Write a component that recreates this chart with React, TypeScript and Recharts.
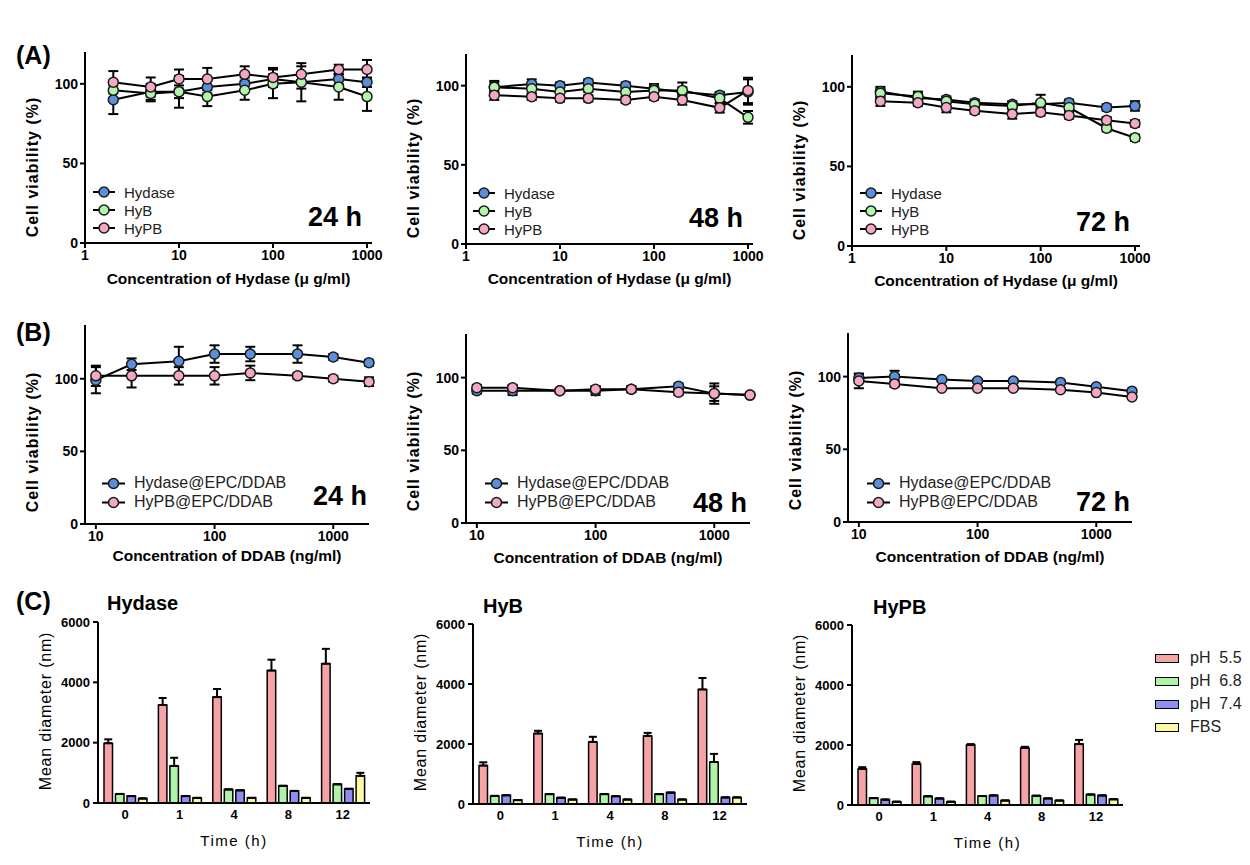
import React from "react";
import {
  LineChart,
  Line,
  BarChart,
  Bar,
  XAxis,
  YAxis,
  ErrorBar,
  Legend,
} from "recharts";

const FONT = "'Liberation Sans', Arial, Helvetica, sans-serif";

// ---- (A) viability vs. Hydase concentration (µg/ml) ----
const concA = [2, 5, 10, 20, 50, 100, 200, 500, 1000];
const ticksA = [1, 10, 100, 1000];

const hydase24 = [90, 95, 95, 98, 100, 103, 101, 103, 101];
const hydase24Sd = [9, 5, 4, 4, 4, 3, 4, 3, 3];
const hyb24 = [96, 94, 95, 92, 96, 100, 101, 98, 92];
const hyb24Sd = [5, 5, 10, 6, 6, 9, 12, 8, 9];
const hypb24 = [101, 98, 103, 103, 106, 104, 106, 109, 109];
const hypb24Sd = [7, 6, 6, 7, 5, 6, 5, 3, 6];

const hydase48 = [99, 101, 100, 102, 100, 98, 96, 94, 96];
const hydase48Sd = [4, 3, 2, 2, 2, 3, 3, 2, 8];
const hyb48 = [99, 98, 96, 98, 96, 97, 97, 92, 80];
const hyb48Sd = [3, 3, 2, 2, 3, 3, 5, 3, 4];
const hypb48 = [94, 93, 92, 92, 91, 93, 91, 86, 97];
const hypb48Sd = [3, 2, 2, 2, 2, 2, 3, 3, 8];

const hydase72 = [97, 93, 92, 90, 89, 89, 90, 87, 88];
const hydase72Sd = [3, 3, 2, 2, 2, 2, 2, 2, 3];
const hyb72 = [96, 94, 91, 89, 88, 90, 87, 74, 68];
const hyb72Sd = [3, 3, 2, 2, 2, 5, 2, 2, 2];
const hypb72 = [91, 90, 87, 85, 83, 84, 82, 79, 77];
const hypb72Sd = [3, 2, 3, 2, 3, 2, 2, 2, 2];

// ---- (B) viability vs. DDAB concentration (ng/ml) ----
const concB = [10, 20, 50, 100, 200, 500, 1000, 2000];
const ticksB = [10, 100, 1000];

const hydLipo24 = [99, 110, 112, 117, 117, 117, 115, 111];
const hydLipo24Sd = [9, 4, 10, 6, 5, 6, 2, 2];
const hypbLipo24 = [102, 102, 102, 102, 104, 102, 100, 98];
const hypbLipo24Sd = [7, 8, 6, 6, 5, 2, 2, 3];

const hydLipo48 = [91, 91, 91, 91, 92, 94, 89, 88];
const hydLipo48Sd = [2, 3, 1, 3, 2, 2, 7, 1];
const hypbLipo48 = [93, 93, 91, 92, 92, 90, 89, 88];
const hypbLipo48Sd = [2, 2, 1, 2, 2, 2, 5, 1];

const hydLipo72 = [99, 100, 98, 97, 97, 96, 93, 90];
const hydLipo72Sd = [3, 4, 1, 1, 1, 1, 1, 1];
const hypbLipo72 = [97, 95, 92, 92, 92, 91, 89, 86];
const hypbLipo72Sd = [5, 2, 1, 1, 1, 1, 1, 1];

// ---- (C) mean diameter over time ----
const times = ["0", "1", "4", "8", "12"];

const hydPh55 = [1980, 3250, 3510, 4390, 4620];
const hydPh55Sd = [130, 230, 270, 360, 490];
const hydPh68 = [300, 1230, 450, 570, 620];
const hydPh68Sd = [0, 270, 0, 0, 0];
const hydPh74 = [230, 230, 420, 400, 470];
const hydPh74Sd = [0, 0, 0, 0, 0];
const hydFbs = [150, 170, 170, 170, 900];
const hydFbsSd = [0, 0, 0, 0, 100];

const hybPh55 = [1280, 2350, 2070, 2270, 3820];
const hybPh55Sd = [110, 90, 170, 100, 380];
const hybPh68 = [270, 330, 330, 330, 1400];
const hybPh68Sd = [0, 0, 0, 0, 270];
const hybPh74 = [290, 210, 260, 380, 220];
const hybPh74Sd = [0, 0, 0, 0, 0];
const hybFbs = [130, 150, 150, 150, 220];
const hybFbsSd = [0, 0, 0, 0, 0];

const hypbPh55 = [1200, 1370, 2000, 1900, 2030];
const hypbPh55Sd = [60, 60, 30, 40, 140];
const hypbPh68 = [230, 290, 300, 310, 350];
const hypbPh68Sd = [0, 0, 0, 0, 0];
const hypbPh74 = [180, 220, 320, 220, 320];
const hypbPh74Sd = [0, 0, 0, 0, 0];
const hypbFbs = [110, 110, 150, 150, 190];
const hypbFbsSd = [0, 0, 0, 0, 0];

const C_HYDASE = "#5a8fdc";
const C_HYB = "#b4f5ae";
const C_HYPB = "#f5a8c6";

const barNames = ["pH 5.5", "pH 6.8", "pH 7.4", "FBS"];
const barColors = ["#f6a3a6", "#aef3a6", "#8e8ef0", "#fdfaa6"];

type Series = { name: string; color: string; values: number[]; sd: number[] };

const tickFont = { fontSize: 14, fontWeight: 700, fill: "#000", fontFamily: FONT };
const axisStroke = { stroke: "#000", strokeWidth: 2 };

type LinePanelProps = {
  px0: number;
  px1: number;
  yTop: number;
  y0: number;
  xs: number[];
  xDomain: [number, number];
  xTicks: number[];
  yMax: number;
  series: Series[];
  xLabel: string;
  xLabelDy: number;
  yLabelDy: number;
  legendDx: number;
  legendDy: number;
  legendRow: number;
  legendFont: number;
  legendSym: number;
};

function LinePanel(p: LinePanelProps) {
  const mL = 10, yW = 60, mT = 10, xH = 50, mR = 15;
  const left = p.px0 - mL - yW;
  const top = p.yTop - mT;
  const width = p.px1 - p.px0 + mL + yW + mR;
  const height = p.y0 - p.yTop + mT + xH;

  const data = p.xs.map((x, i) => {
    const row: Record<string, number> = { x };
    p.series.forEach((s, k) => {
      row[`v${k}`] = s.values[i];
      row[`e${k}`] = s.sd[i];
    });
    return row;
  });

  const legendContent = () => (
    <div style={{ fontFamily: FONT, fontSize: p.legendFont, color: "#222" }}>
      {p.series.map((s) => (
        <div key={s.name} style={{ display: "flex", alignItems: "center", height: p.legendRow }}>
          <svg width={p.legendSym} height={p.legendRow}>
            <line x1={0} x2={p.legendSym} y1={p.legendRow / 2} y2={p.legendRow / 2} stroke="#000" strokeWidth={2} />
            <circle cx={p.legendSym / 2} cy={p.legendRow / 2} r={5} fill={s.color} stroke="#1a1a1a" strokeWidth={1.5} />
          </svg>
          <span style={{ marginLeft: 9, whiteSpace: "nowrap" }}>{s.name}</span>
        </div>
      ))}
    </div>
  );

  return (
    <div style={{ position: "absolute", left, top }}>
      <LineChart width={width} height={height} data={data} margin={{ top: mT, right: mR, left: mL, bottom: 0 }}>
        <XAxis
          dataKey="x"
          type="number"
          scale="log"
          domain={p.xDomain}
          ticks={p.xTicks}
          interval={0}
          height={xH}
          tick={tickFont}
          tickSize={5}
          tickLine={axisStroke}
          axisLine={axisStroke}
          label={{
            content: () => (
              <text
                x={(p.px0 + p.px1) / 2 - left}
                y={p.y0 + p.xLabelDy - top}
                textAnchor="middle"
                dominantBaseline="central"
                fontFamily={FONT}
                fontSize={15.5}
                fontWeight={700}
                fill="#000"
              >
                {p.xLabel}
              </text>
            ),
          }}
        />
        <YAxis
          type="number"
          domain={[0, p.yMax]}
          ticks={[0, 50, 100]}
          interval={0}
          width={yW}
          tick={tickFont}
          tickSize={5}
          tickLine={axisStroke}
          axisLine={axisStroke}
          label={{
            content: () => {
              const cx = mL + yW - 53;
              const cy = p.y0 - p.yLabelDy - top;
              return (
                <text
                  x={cx}
                  y={cy}
                  transform={`rotate(-90 ${cx} ${cy})`}
                  textAnchor="middle"
                  dominantBaseline="central"
                  fontFamily={FONT}
                  fontSize={16}
                  fontWeight={700}
                  letterSpacing={1}
                  fill="#000"
                >
                  Cell viability (%)
                </text>
              );
            },
          }}
        />
        <Legend
          layout="vertical"
          align="center"
          verticalAlign="middle"
          content={legendContent}
          wrapperStyle={{
            left: p.px0 + p.legendDx - left,
            top: p.y0 - p.legendDy - p.legendRow / 2 - top,
            width: "auto",
            height: "auto",
          }}
        />
        {p.series.map((s, k) => (
          <Line
            key={s.name}
            type="linear"
            dataKey={`v${k}`}
            name={s.name}
            stroke="#000"
            strokeWidth={2}
            dot={{ r: 5, fill: s.color, stroke: "#1a1a1a", strokeWidth: 1.5 }}
            activeDot={false}
            isAnimationActive={false}
          >
            <ErrorBar dataKey={`e${k}`} direction="y" width={5} stroke="#000" strokeWidth={2} isAnimationActive={false} />
          </Line>
        ))}
      </LineChart>
    </div>
  );
}

type BarPanelProps = {
  px0: number;
  px1: number;
  yTop: number;
  y0: number;
  values: number[][];
  sd: number[][];
  showLegend: boolean;
};

function BarPanel(p: BarPanelProps) {
  const mL = 10, yW = 60, mT = 10, xH = 50;
  const mR = p.showLegend ? 1250 - p.px1 : 15;
  const left = p.px0 - mL - yW;
  const top = p.yTop - mT;
  const width = p.px1 - p.px0 + mL + yW + mR;
  const height = p.y0 - p.yTop + mT + xH;

  const data = times.map((t, i) => {
    const row: Record<string, any> = { t };
    p.values.forEach((v, k) => {
      row[`b${k}`] = v[i];
      row[`s${k}`] = [0, p.sd[k][i]];
    });
    return row;
  });

  const legendContent = () => (
    <div style={{ fontFamily: FONT, fontSize: 16, color: "#222" }}>
      {barNames.map((n, k) => (
        <div key={n} style={{ display: "flex", alignItems: "center", height: 23 }}>
          <div style={{ width: 22, height: 7, background: barColors[k], border: "1.5px solid #000" }} />
          <span style={{ marginLeft: 11, whiteSpace: "pre" }}>{n.replace(" ", "  ")}</span>
        </div>
      ))}
    </div>
  );

  return (
    <div style={{ position: "absolute", left, top }}>
      <BarChart
        width={width}
        height={height}
        data={data}
        margin={{ top: mT, right: mR, left: mL, bottom: 0 }}
        barSize={8.5}
        barGap={3}
      >
        <XAxis
          dataKey="t"
          type="category"
          interval={0}
          height={xH}
          tick={{ ...tickFont, fontSize: 13 }}
          tickSize={5}
          tickLine={false}
          axisLine={axisStroke}
          label={{
            content: () => (
              <text
                x={(p.px0 + p.px1) / 2 - left}
                y={p.y0 + 37 - top}
                textAnchor="middle"
                dominantBaseline="central"
                fontFamily={FONT}
                fontSize={15}
                letterSpacing={1.5}
                fill="#000"
              >
                Time (h)
              </text>
            ),
          }}
        />
        <YAxis
          type="number"
          domain={[0, 6000]}
          ticks={[0, 2000, 4000, 6000]}
          interval={0}
          width={yW}
          tick={{ ...tickFont, fontSize: 13 }}
          tickSize={5}
          tickMargin={3}
          tickLine={axisStroke}
          axisLine={axisStroke}
          label={{
            content: () => {
              const cx = mL + yW - 53;
              const cy = p.y0 - 92 - top;
              return (
                <text
                  x={cx}
                  y={cy}
                  transform={`rotate(-90 ${cx} ${cy})`}
                  textAnchor="middle"
                  dominantBaseline="central"
                  fontFamily={FONT}
                  fontSize={16}
                  letterSpacing={0.8}
                  fill="#000"
                >
                  Mean diameter (nm)
                </text>
              );
            },
          }}
        />
        {p.showLegend && (
          <Legend
            layout="vertical"
            align="center"
            verticalAlign="middle"
            content={legendContent}
            wrapperStyle={{ left: 1155 - left, top: 658 - 11.5 - top, width: "auto", height: "auto" }}
          />
        )}
        {p.values.map((_, k) => (
          <Bar
            key={k}
            dataKey={`b${k}`}
            name={barNames[k]}
            fill={barColors[k]}
            stroke="#000"
            strokeWidth={1.5}
            isAnimationActive={false}
          >
            <ErrorBar dataKey={`s${k}`} direction="y" width={4} stroke="#000" strokeWidth={2} isAnimationActive={false} />
          </Bar>
        ))}
      </BarChart>
    </div>
  );
}

const seriesA24: Series[] = [
  { name: "Hydase", color: C_HYDASE, values: hydase24, sd: hydase24Sd },
  { name: "HyB", color: C_HYB, values: hyb24, sd: hyb24Sd },
  { name: "HyPB", color: C_HYPB, values: hypb24, sd: hypb24Sd },
];
const seriesA48: Series[] = [
  { name: "Hydase", color: C_HYDASE, values: hydase48, sd: hydase48Sd },
  { name: "HyB", color: C_HYB, values: hyb48, sd: hyb48Sd },
  { name: "HyPB", color: C_HYPB, values: hypb48, sd: hypb48Sd },
];
const seriesA72: Series[] = [
  { name: "Hydase", color: C_HYDASE, values: hydase72, sd: hydase72Sd },
  { name: "HyB", color: C_HYB, values: hyb72, sd: hyb72Sd },
  { name: "HyPB", color: C_HYPB, values: hypb72, sd: hypb72Sd },
];
const seriesB24: Series[] = [
  { name: "Hydase@EPC/DDAB", color: C_HYDASE, values: hydLipo24, sd: hydLipo24Sd },
  { name: "HyPB@EPC/DDAB", color: C_HYPB, values: hypbLipo24, sd: hypbLipo24Sd },
];
const seriesB48: Series[] = [
  { name: "Hydase@EPC/DDAB", color: C_HYDASE, values: hydLipo48, sd: hydLipo48Sd },
  { name: "HyPB@EPC/DDAB", color: C_HYPB, values: hypbLipo48, sd: hypbLipo48Sd },
];
const seriesB72: Series[] = [
  { name: "Hydase@EPC/DDAB", color: C_HYDASE, values: hydLipo72, sd: hydLipo72Sd },
  { name: "HyPB@EPC/DDAB", color: C_HYPB, values: hypbLipo72, sd: hypbLipo72Sd },
];

const xLabelA = "Concentration of Hydase (\u03bc g/ml)";
const xLabelB = "Concentration of DDAB (ng/ml)";

export default function App() {
  const legA = { legendRow: 18, legendFont: 15, legendSym: 22, legendDy: 51 };
  const legB = { legendRow: 19, legendFont: 16, legendSym: 23, legendDy: 41 };
  return (
    <div
      style={{
        position: "absolute",
        left: 0,
        top: 0,
        width: 1250,
        height: 865,
        background: "#fff",
        overflow: "hidden",
        fontFamily: FONT,
      }}
    >
      {/* row A */}
      <LinePanel px0={85} px1={372} yTop={52} y0={243} xs={concA} xDomain={[1, 1130]} xTicks={ticksA} yMax={120}
        series={seriesA24} xLabel={xLabelA} xLabelDy={35} yLabelDy={76} legendDx={8} {...legA} />
      <LinePanel px0={466} px1={753} yTop={54} y0={244} xs={concA} xDomain={[1, 1130]} xTicks={ticksA} yMax={120}
        series={seriesA48} xLabel={xLabelA} xLabelDy={34} yLabelDy={76} legendDx={7} {...legA} />
      <LinePanel px0={852} px1={1140} yTop={55} y0={246} xs={concA} xDomain={[1, 1130]} xTicks={ticksA} yMax={120}
        series={seriesA72} xLabel={xLabelA} xLabelDy={34} yLabelDy={76} legendDx={8} {...legA} legendDy={53} />

      {/* row B */}
      <LinePanel px0={85} px1={369} yTop={325} y0={524} xs={concB} xDomain={[8.1, 2000]} xTicks={ticksB} yMax={137}
        series={seriesB24} xLabel={xLabelB} xLabelDy={31} yLabelDy={82} legendDx={17} {...legB} />
      <LinePanel px0={466} px1={750} yTop={334} y0={523} xs={concB} xDomain={[8.1, 2000]} xTicks={ticksB} yMax={130}
        series={seriesB48} xLabel={xLabelB} xLabelDy={34} yLabelDy={82} legendDx={19} {...legB} legendDy={40} />
      <LinePanel px0={848} px1={1132} yTop={333} y0={522} xs={concB} xDomain={[8.1, 2000]} xTicks={ticksB} yMax={130}
        series={seriesB72} xLabel={xLabelB} xLabelDy={34} yLabelDy={82} legendDx={19} {...legB} legendDy={39} />

      {/* row C */}
      <BarPanel px0={98} px1={370} yTop={622} y0={803}
        values={[hydPh55, hydPh68, hydPh74, hydFbs]} sd={[hydPh55Sd, hydPh68Sd, hydPh74Sd, hydFbsSd]} showLegend={false} />
      <BarPanel px0={473} px1={747} yTop={624} y0={804}
        values={[hybPh55, hybPh68, hybPh74, hybFbs]} sd={[hybPh55Sd, hybPh68Sd, hybPh74Sd, hybFbsSd]} showLegend={false} />
      <BarPanel px0={852} px1={1123} yTop={625} y0={805}
        values={[hypbPh55, hypbPh68, hypbPh74, hypbFbs]} sd={[hypbPh55Sd, hypbPh68Sd, hypbPh74Sd, hypbFbsSd]} showLegend={true} />

      <svg width={1250} height={865} style={{ position: "absolute", left: 0, top: 0, pointerEvents: "none" }}>
        <g fontFamily={FONT} fontWeight={700} fill="#000">
          <text x={16} y={55} fontSize={25} dominantBaseline="central">(A)</text>
          <text x={16} y={332} fontSize={25} dominantBaseline="central">(B)</text>
          <text x={16} y={601} fontSize={25} dominantBaseline="central">(C)</text>

          <text x={107} y={603} fontSize={20} dominantBaseline="central">Hydase</text>
          <text x={483} y={606} fontSize={20} dominantBaseline="central">HyB</text>
          <text x={873} y={607} fontSize={20} dominantBaseline="central">HyPB</text>

          <text x={362} y={217} fontSize={27} textAnchor="end" dominantBaseline="central">24 h</text>
          <text x={743} y={218} fontSize={27} textAnchor="end" dominantBaseline="central">48 h</text>
          <text x={1130} y={222} fontSize={27} textAnchor="end" dominantBaseline="central">72 h</text>
          <text x={367} y={496} fontSize={27} textAnchor="end" dominantBaseline="central">24 h</text>
          <text x={747} y={503} fontSize={27} textAnchor="end" dominantBaseline="central">48 h</text>
          <text x={1130} y={502} fontSize={27} textAnchor="end" dominantBaseline="central">72 h</text>
        </g>
      </svg>
    </div>
  );
}
